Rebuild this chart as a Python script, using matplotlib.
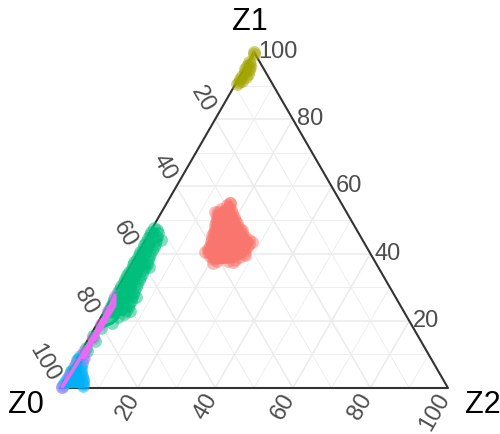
import numpy as np
import matplotlib.pyplot as plt

plt.rcParams['font.family'] = ['Liberation Sans', 'DejaVu Sans']

# compositions in percent (Z0 is whatever is left over)
mid_z1 = [55.1, 47.0, 43.5, 39.6, 37.5, 37.2, 40.5, 45.5, 52.4, 55.1,
          54.4, 54.0, 53.4, 53.0, 52.4, 52.0, 51.4, 51.0, 50.4, 50.0,
          49.4, 49.0, 48.4, 48.0, 47.4, 47.0, 46.4, 46.0, 45.4, 45.0,
          44.4, 44.0, 43.4, 43.0, 42.4, 42.0, 41.4, 41.0, 40.4, 40.0,
          39.4, 39.0, 38.4, 38.0, 37.8, 37.8]
mid_z2 = [16.3, 23.4, 27.8, 27.9, 25.8, 20.8, 17.1, 16.4, 13.8, 16.3,
          15.8, 16.6, 14.9, 17.5, 14.6, 18.4, 14.8, 19.3, 15.2, 20.1,
          15.4, 21.0, 15.8, 21.9, 16.2, 22.8, 16.6, 24.0, 16.9, 25.3,
          17.1, 26.6, 17.3, 27.2, 17.4, 27.2, 17.5, 27.2, 18.0, 27.3,
          19.0, 26.6, 20.2, 26.0, 21.5, 24.5]

top_z1 = [100.0, 99.3, 97.0, 96.5, 95.8, 95.5, 94.8, 94.5, 94.0, 93.5,
          93.0, 92.5, 92.0, 91.5, 91.0, 90.5]
top_z2 = [0.0, 0.3, 0.2, 0.6, 0.2, 1.2, 0.4, 1.5, 0.6, 1.8,
          0.5, 1.6, 0.3, 1.2, 0.6, 0.3]

edge_z1 = [47.5, 47.0, 46.5, 46.0, 45.5, 45.0, 44.5, 44.0, 44.0, 43.5,
           43.0, 42.5, 42.0, 41.5, 41.0, 40.5, 40.0, 39.5, 39.0, 38.5,
           38.0, 37.5, 37.0, 36.5, 36.0, 36.0, 35.5, 35.0, 34.5, 34.0,
           33.5, 33.0, 32.5, 32.0, 31.5, 31.0, 30.5, 30.0, 29.5, 29.0,
           28.5, 28.0, 27.5, 27.0, 27.0, 26.5, 26.0, 25.5, 25.0, 24.5,
           24.0, 23.0, 23.5, 23.0, 22.5, 22.0, 21.5, 21.0, 19.3, 18.0,
           15.5, 14.0, 12.0, 11.0, 8.5, 5.0]
edge_z2 = [0.4, 1.6, 0.3, 2.2, 0.5, 2.5, 0.4, 2.8, 4.0, 0.5,
           3.0, 0.4, 3.1, 0.6, 3.2, 0.4, 3.3, 0.5, 3.5, 0.6,
           3.6, 0.4, 3.8, 0.5, 3.9, 5.0, 0.7, 4.0, 0.5, 4.1,
           0.6, 4.2, 0.5, 4.3, 0.7, 4.4, 0.6, 4.5, 0.8, 4.7,
           0.6, 4.9, 0.9, 5.0, 6.0, 0.7, 5.2, 1.0, 5.3, 0.8,
           5.4, 6.5, 1.1, 5.5, 1.2, 5.6, 1.4, 4.5, 3.7, 1.5,
           0.8, 2.0, 0.6, 1.5, 0.4, 0.3]

corner_z1 = [0.3, 0.5, 1.0, 1.2, 1.8, 2.0, 2.6, 2.8, 3.4, 3.6, 4.2, 4.5,
             5.2, 5.5, 6.2, 6.5, 7.2, 7.5, 8.2, 8.8, 9.5, 10.0]
corner_z2 = [0.3, 5.6, 0.4, 5.4, 0.5, 5.0, 0.4, 4.4, 0.5, 3.8, 0.4, 3.2,
             0.5, 2.6, 0.4, 2.2, 0.5, 1.8, 0.4, 1.5, 0.5, 0.8]

base_z1 = [0.4, 3.5, 7.0, 11.0, 15.0, 19.0, 23.0, 27.5, 24.5, 9.0]
base_z2 = [0.4, 0.6, 0.7, 0.8, 0.9, 1.0, 0.8, 0.4, 1.8, 1.6]

groups = [
    (mid_z1, mid_z2, '#F8766D'),
    (top_z1, top_z2, '#A3A500'),
    (edge_z1, edge_z2, '#00BF7D'),
    (corner_z1, corner_z2, '#00B0F6'),
    (base_z1, base_z2, '#E76BF3'),
]

ticks = [20, 40, 60, 80, 100]
PX = 1 / 388.0
H = np.sqrt(3) / 2


def to_xy(z1, z2):
    z1 = np.asarray(z1, dtype=float) / 100
    z2 = np.asarray(z2, dtype=float) / 100
    return z2 + z1 / 2, z1 * H


fig = plt.figure(figsize=(5, 4.34), dpi=100)
ax = fig.add_axes([0, 0, 1, 1])
ax.set_xlim(-60 * PX, 440 * PX)
ax.set_ylim(-46 * PX, 1.0)
ax.axis('off')

# grid, every 10 %, heavier on the labelled levels
for f in range(10, 100, 10):
    lw = 1.1 if f % 20 == 0 else 0.55
    for (a1, a2), (b1, b2) in [((f, 0), (f, 100 - f)),          # const Z1
                               ((0, f), (100 - f, f)),          # const Z2
                               ((100 - f, 0), (0, 100 - f))]:   # const Z0
        x, y = to_xy([a1, b1], [a2, b2])
        ax.plot(x, y, color='#EBEBEB', lw=lw, zorder=1)

bx, by = to_xy([0, 100, 0, 0], [0, 0, 100, 0])
ax.plot(bx, by, color='#333333', lw=1.5, zorder=2, solid_capstyle='round')

for z1, z2, col in groups:
    x, y = to_xy(z1, z2)
    ax.scatter(x, y, s=85, color=col, alpha=0.5, lw=0, zorder=3)
for z1, z2, col in groups:
    x, y = to_xy(z1, z2)
    lw = 2.6 if col == '#E76BF3' else 2.2
    ax.plot(x, y, color=col, lw=lw, zorder=4, solid_capstyle='round',
            solid_joinstyle='round')

tick_kw = dict(fontsize=17, color='#4D4D4D', rotation_mode='anchor')
for v in ticks:
    # Z1 along the right edge
    x, y = to_xy(v, 100 - v)
    ax.text(x + 4 * PX, y, str(v), ha='left', va='center', **tick_kw)
    # Z0 along the left edge
    x, y = to_xy(100 - v, 0)
    ax.text(x - 6 * PX, y + 8 * PX, str(v), ha='right', va='center',
            rotation=-60, **tick_kw)
    # Z2 along the bottom
    x, y = to_xy(0, v)
    ax.text(x - 3 * PX, y - 7 * PX, str(v), ha='right', va='center',
            rotation=60, **tick_kw)

ax.text(0.5 - 4 * PX, H + 30 * PX, 'Z1', fontsize=22, ha='center', va='center')
ax.text(-34 * PX, -17 * PX, 'Z0', fontsize=22, ha='center', va='center')
ax.text(1 + 35 * PX, -17 * PX, 'Z2', fontsize=22, ha='center', va='center')

fig.savefig('out.png', dpi=100)
